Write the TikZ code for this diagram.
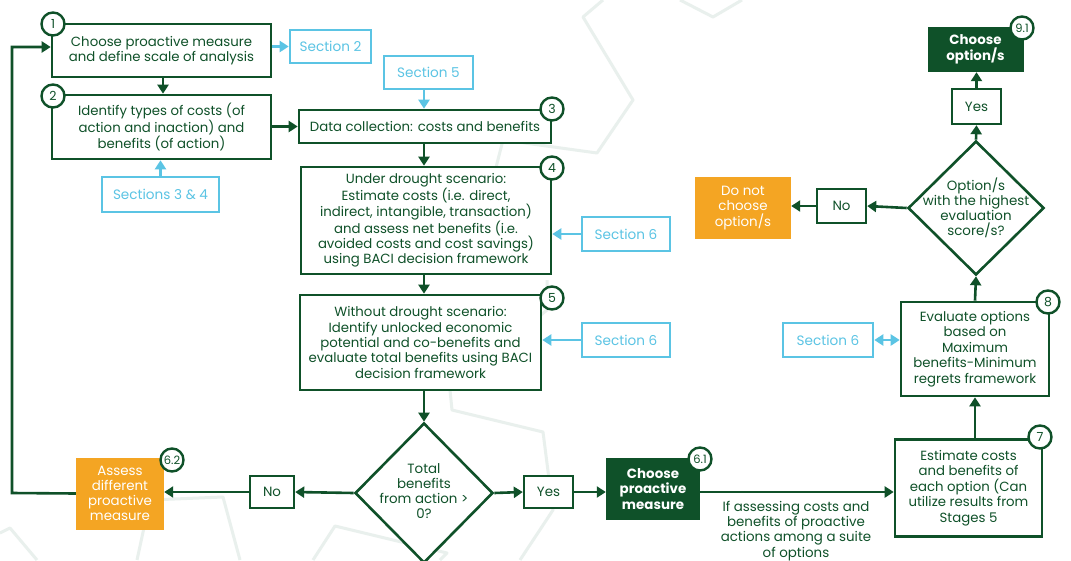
\documentclass[tikz,border=0pt]{standalone}
\usepackage{fontspec}
\setmainfont{Poppins}
\usetikzlibrary{arrows.meta,shapes.geometric}
\definecolor{dg}{HTML}{0F5129}
\definecolor{org}{HTML}{F4A523}
\definecolor{lb}{HTML}{5BC4E4}
\definecolor{hexc}{HTML}{E9F0ED}
\begin{document}
\begin{tikzpicture}[x=1pt,y=-1pt,
 every node/.style={inner sep=0pt, align=center},
 box/.style={rectangle, draw=dg, line width=2.6pt, fill=white, text=dg, font=\fontsize{13.3}{15.4}\selectfont},
 secbox/.style={rectangle, draw=lb, line width=2.6pt, fill=white, text=lb, font=\fontsize{13.6}{15}\selectfont},
 darkbox/.style={rectangle, fill=dg, text=white, font=\fontsize{13.4}{15.5}\selectfont\bfseries},
 orgbox/.style={rectangle, fill=org, text=white, font=\fontsize{13.4}{15.2}\selectfont},
 ynbox/.style={rectangle, draw=dg, line width=2.4pt, fill=white, text=dg, font=\fontsize{13.4}{15}\selectfont},
 numc/.style={circle, draw=dg, line width=2.4pt, fill=white, text=dg, minimum size=23pt, font=\fontsize{12.5}{12.5}\selectfont},
 dia/.style={diamond, draw=dg, line width=2.6pt, fill=white},
 dtext/.style={text=dg, font=\fontsize{13.4}{15.2}\selectfont},
 arr/.style={draw=dg, line width=2.6pt, -{Triangle[length=9pt,width=11pt]}},
 barr/.style={draw=lb, line width=2.6pt, -{Triangle[length=9pt,width=11pt]}},
 dbarr/.style={draw=lb, line width=2.6pt, {Triangle[length=9pt,width=11pt]}-{Triangle[length=9pt,width=11pt]}},
 bgl/.style={draw=hexc, line width=3pt, line join=round},
]
\useasboundingbox (0,0) rectangle (1071,560);
\fill[white] (0,0) rectangle (1071,560);
% faint background hexagons
\draw[bgl] (680,0) -- (713,17) -- (742,0);
\draw[bgl] (603,0) -- (583,17) -- (633,100) -- (597,153) -- (503,140) -- (480,230);
\draw[bgl] (547,280) -- (547,310) -- (450,390) -- (452,410) -- (543,432) -- (553,510) -- (520,560);
\draw[bgl] (0,533) -- (10,528) -- (37,560);
\draw[bgl] (137,560) -- (150,500) -- (223,497) -- (240,560);
\draw[bgl] (313,560) -- (335,526) -- (447,553) -- (440,560);

% main boxes
\node[box, minimum width=219pt, minimum height=53pt] (b1) at (161.5,50.5) {Choose proactive measure\\and define scale of analysis};
\node[box, minimum width=219pt, minimum height=64pt] (b2) at (161.5,127) {Identify types of costs (of\\action and inaction) and\\benefits (of action)};
\node[box, minimum width=252pt, minimum height=33pt] (b3) at (425,126.5) {Data collection: costs and benefits};
\node[box, minimum width=250pt, minimum height=107pt] (b4) at (426,220.5) {Under drought scenario:\\Estimate costs (i.e. direct,\\indirect, intangible, transaction)\\and assess net benefits (i.e.\\avoided costs and cost savings)\\using BACI decision framework};
\node[box, minimum width=241pt, minimum height=95pt] (b5) at (420.5,342.5) {Without drought scenario:\\Identify unlocked economic\\potential and co-benefits and\\evaluate total benefits using BACI\\decision framework};
\node[box, minimum width=147pt, minimum height=97pt] (b7) at (968.5,488) {Estimate costs\\and benefits of\\each option (Can\\utilize results from\\Stages 5};
\node[box, minimum width=148pt, minimum height=94pt] (b8) at (975,349) {Evaluate options\\based on\\Maximum\\benefits-Minimum\\regrets framework};

% section boxes
\node[secbox, minimum width=81pt, minimum height=33pt] (s2) at (330.5,46.5) {Section 2};
\node[secbox, minimum width=117pt, minimum height=35pt] (s34) at (160.5,194.5) {Sections 3 \& 4};
\node[secbox, minimum width=89pt, minimum height=33pt] (s5) at (428.5,72.5) {Section 5};
\node[secbox, minimum width=88pt, minimum height=34pt] (s6a) at (626,234) {Section 6};
\node[secbox, minimum width=88pt, minimum height=34pt] (s6b) at (626,340) {Section 6};
\node[secbox, minimum width=90pt, minimum height=34pt] (s6c) at (828,340) {Section 6};

% decisions
\node[dia, minimum width=138pt, minimum height=140pt] (d1) at (424,493) {};
\node[dtext] (d1t) at (424,491) {Total\\benefits\\from action >\\0?};
\node[dia, minimum width=136pt, minimum height=134pt] (d2) at (976,208) {};
\node[dtext] (d2t) at (976,208) {Option/s\\with the highest\\evaluation\\score/s?};

% yes / no
\node[ynbox, minimum width=44pt, minimum height=32pt] (no1) at (272,492) {No};
\node[ynbox, minimum width=49pt, minimum height=32pt] (yes1) at (548.5,492) {Yes};
\node[ynbox, minimum width=49pt, minimum height=35pt] (yes2) at (976.5,106.5) {Yes};
\node[ynbox, minimum width=49pt, minimum height=34pt] (no2) at (841.5,206) {No};

% outcome boxes
\node[orgbox, minimum width=88pt, minimum height=72pt] (o1) at (120,493.5) {Assess\\different\\proactive\\measure};
\node[darkbox, minimum width=94pt, minimum height=62pt] (k1) at (653,489) {Choose\\proactive\\measure};
\node[orgbox, minimum width=96pt, minimum height=62pt] (o2) at (743,208) {Do not\\choose\\option/s};
\node[darkbox, minimum width=96pt, minimum height=45pt] (k2) at (975.5,49.5) {Choose\\option/s};

% label
\node[dtext] (lbl) at (796,531) {If assessing costs and\\benefits of proactive\\actions among a suite\\of options};

% connectors
\draw[arr] (b1.south -| 163,0) -- (b2.north -| 163,0);
\draw[barr] (b1.east |- s2.west) -- (s2.west);
\draw[barr] (s34.north) -- (s34.north |- b2.south);
\draw[arr] (b2.east |- b3.west) -- (b3.west);
\draw[barr] (s5.south -| 424,0) -- (b3.north -| 424,0);
\draw[arr] (b3.south -| 424,0) -- (b4.north -| 424,0);
\draw[barr] (s6a.west) -- (s6a.west -| b4.east);
\draw[arr] (b4.south -| 424,0) -- (b5.north -| 424,0);
\draw[barr] (s6b.west) -- (s6b.west -| b5.east);
\draw[arr] (b5.south -| 424,0) -- (d1.north);
\draw[arr] (d1.west) -- (no1.east);
\draw[arr] (no1.west) -- (no1.west -| o1.east);
\coordinate (lp) at (12,493);
\coordinate (lt) at (12,47);
\draw[arr] (o1.west) -- (lp) -- (lt) -- (lt -| b1.west);
\draw[arr] (d1.east) -- (yes1.west);
\draw[arr] (yes1.east) -- (yes1.east -| k1.west);
\draw[arr] (k1.east |- yes1.east) -- (yes1.east -| b7.west);
\draw[arr] (b7.north -| 975,0) -- (b8.south -| 975,0);
\draw[dbarr] (s6c.east) -- (s6c.east -| b8.west);
\draw[arr] (b8.north -| 975,0) -- (d2.south);
\draw[arr] (d2.north) -- (yes2.south);
\draw[arr] (yes2.north) -- (yes2.north |- k2.south);
\draw[arr] (d2.west) -- (no2.east);
\draw[arr] (no2.west) -- (no2.west -| o2.east);

% step numbers
\node[numc] (c1) at (53,24) {1};
\node[numc] (c2) at (53,96) {2};
\node[numc] (c3) at (552,109) {3};
\node[numc] (c4) at (552,168) {4};
\node[numc] (c5) at (552,298) {5};
\node[numc, font=\fontsize{11.5}{11.5}\selectfont] (c62) at (172,460) {6.2};
\node[numc, font=\fontsize{11.5}{11.5}\selectfont] (c61) at (700,459) {6.1};
\node[numc] (c7) at (1040,437) {7};
\node[numc] (c8) at (1048,302) {8};
\node[numc, font=\fontsize{11.5}{11.5}\selectfont] (c91) at (1022,28) {9.1};
\end{tikzpicture}
\end{document}
